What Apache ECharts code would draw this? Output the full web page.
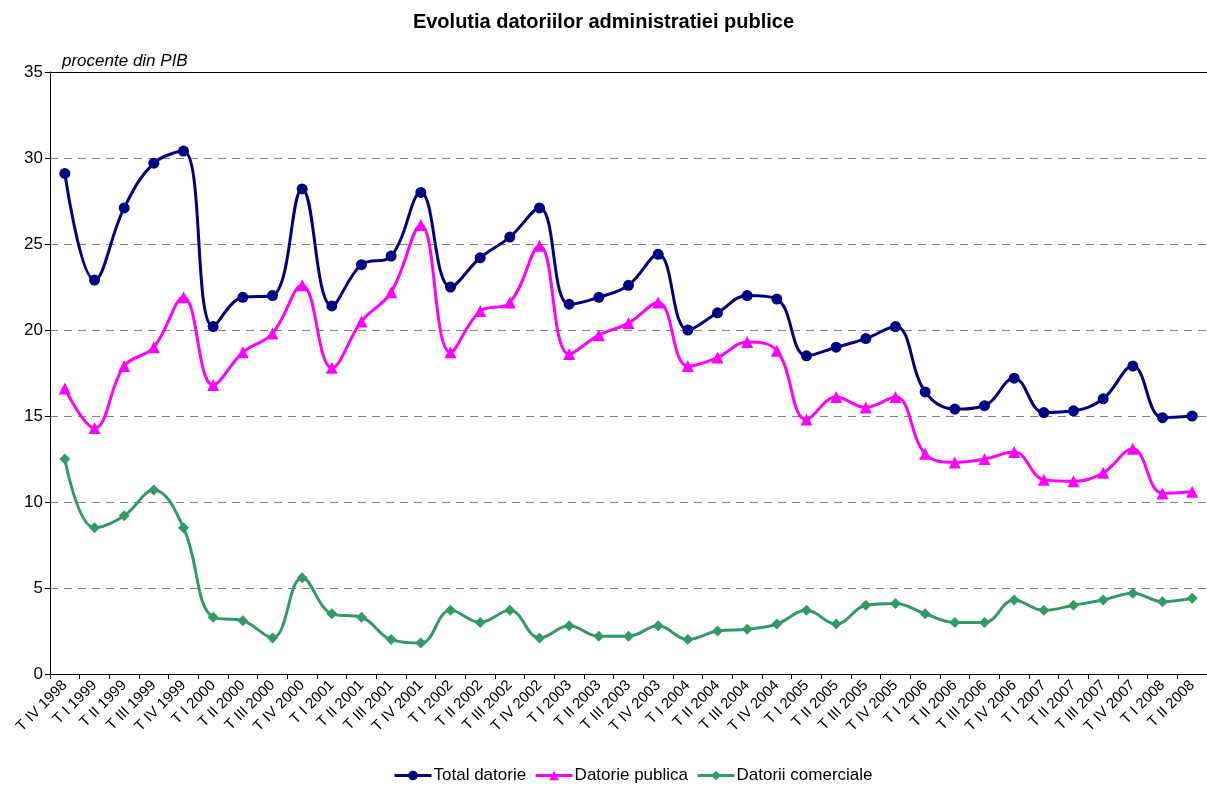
<!DOCTYPE html>
<html><head><meta charset="utf-8">
<script src="https://cdn.jsdelivr.net/npm/echarts@6/dist/echarts.min.js"></script>
<style>html,body{margin:0;padding:0;background:#fff}#c{width:1207px;height:790px}</style>
</head><body><div id="c"></div>
<script>
const categories = ["T IV 1998","T I 1999","T II 1999","T III 1999","T IV 1999","T I 2000","T II 2000","T III 2000","T IV 2000","T I 2001","T II 2001","T III 2001","T IV 2001","T I 2002","T II 2002","T III 2002","T IV 2002","T I 2003","T II 2003","T III 2003","T IV 2003","T I 2004","T II 2004","T III 2004","T IV 2004","T I 2005","T II 2005","T III 2005","T IV 2005","T I 2006","T II 2006","T III 2006","T IV 2006","T I 2007","T II 2007","T III 2007","T IV 2007","T I 2008","T II 2008"];
const totalDatorie = [29.1,22.9,27.1,29.7,30.4,20.2,21.9,22.0,28.2,21.4,23.8,24.3,28.0,22.5,24.2,25.4,27.1,21.5,21.9,22.6,24.4,20.0,21.0,22.0,21.8,18.5,19.0,19.5,20.2,16.4,15.4,15.6,17.2,15.2,15.3,16.0,17.9,14.9,15.0];
const datoriePublica = [16.6,14.3,17.9,19.0,21.9,16.8,18.7,19.8,22.6,17.8,20.5,22.2,26.1,18.7,21.1,21.6,24.9,18.6,19.7,20.4,21.6,17.9,18.4,19.3,18.8,14.8,16.1,15.5,16.1,12.8,12.3,12.5,12.9,11.3,11.2,11.7,13.1,10.5,10.6];
const datoriiComerciale = [12.5,8.5,9.2,10.7,8.5,3.3,3.1,2.1,5.6,3.5,3.3,2.0,1.8,3.7,3.0,3.7,2.1,2.8,2.2,2.2,2.8,2.0,2.5,2.6,2.9,3.7,2.9,4.0,4.1,3.5,3.0,3.0,4.3,3.7,4.0,4.3,4.7,4.2,4.4];
const yTicks = [0,5,10,15,20,25,30,35];

const chart = echarts.init(document.getElementById('c'));
const font = 'Liberation Sans, Arial, sans-serif';
function mk(name, data, color, symbol, size) {
  return {name, type:'line', data, smooth:0.4, symbol, symbolSize:size, xAxisIndex:0,
    lineStyle:{color, width:3}, itemStyle:{color}, showSymbol:true, z:3};
}
chart.setOption({
  animation:false,
  title:{text:'Evolutia datoriilor administratiei publice', left:'center', top:7,
    textStyle:{fontFamily:font, fontSize:20, fontWeight:'bold', color:'#000'}},
  grid:{left:50, right:0, top:72, bottom:116, show:false},
  graphic:[{type:'text', left:62, top:53, style:{text:'procente din PIB', font:'italic 17px Liberation Sans, Arial, sans-serif', fill:'#000'}}],
  legend:{bottom:1, left:388, itemWidth:37, itemHeight:12, itemGap:8,
    lineStyle:{width:3},
    textStyle:{fontFamily:font, fontSize:17, color:'#000', padding:[0,0,0,-3]},
    data:['Total datorie','Datorie publica','Datorii comerciale']},
  xAxis:[{type:'category', data:categories, boundaryGap:true,
    axisLine:{lineStyle:{color:'#000', width:1}},
    axisTick:{show:true, alignWithLabel:false, length:5, lineStyle:{color:'#000'}},
    axisLabel:{rotate:45, interval:0, fontFamily:font, fontSize:15, color:'#000', margin:9},
    splitLine:{show:false}},
   {type:'category', data:categories, position:'top', boundaryGap:true,
    axisLine:{show:true, lineStyle:{color:'#000', width:1}},
    axisTick:{show:false}, axisLabel:{show:false}, splitLine:{show:false}}],
  yAxis:{type:'value', min:yTicks[0], max:yTicks[yTicks.length-1], interval:5,
    axisLine:{show:true, lineStyle:{color:'#000'}},
    axisTick:{show:true, length:5, lineStyle:{color:'#000'}},
    axisLabel:{fontFamily:font, fontSize:17, color:'#000', margin:7},
    splitLine:{show:true, lineStyle:{color:'#808080', type:[8,6], width:1}}},
  series:[
    mk('Total datorie', totalDatorie, '#000080', 'circle', 11),
    mk('Datorie publica', datoriePublica, '#FF00FF', 'triangle', 12),
    mk('Datorii comerciale', datoriiComerciale, '#339966', 'diamond', 11)
  ]
});
</script></body></html>
